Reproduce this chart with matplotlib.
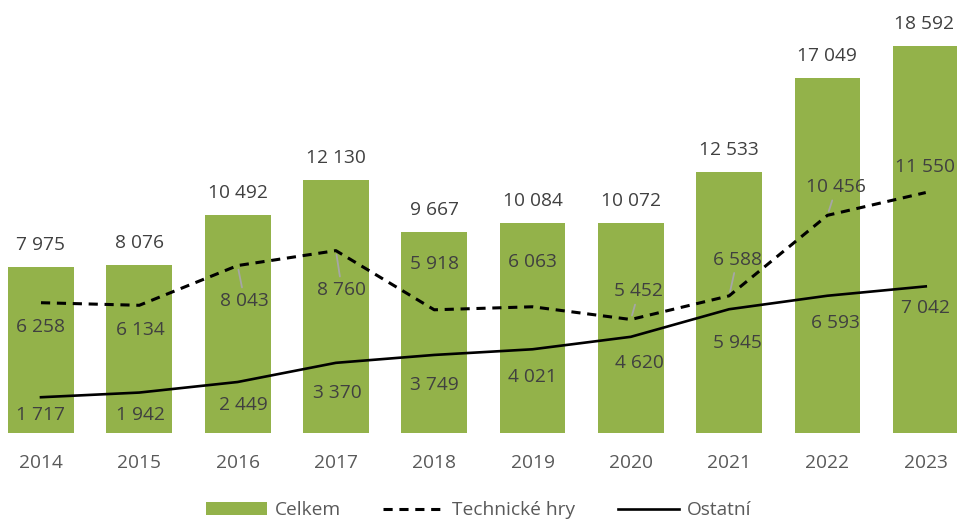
#!/usr/bin/env python3
"""Celkem / Technické hry / Ostatní, 2014-2023."""

import numpy as np
import matplotlib
matplotlib.use("Agg")
import matplotlib.pyplot as plt
from matplotlib.lines import Line2D
from matplotlib.patches import Patch

plt.rcParams["font.family"] = ["Open Sans", "DejaVu Sans"]

years = ["2014", "2015", "2016", "2017", "2018", "2019", "2020", "2021", "2022", "2023"]
celkem = [7975, 8076, 10492, 12130, 9667, 10084, 10072, 12533, 17049, 18592]
technicke = [6258, 6134, 8043, 8760, 5918, 6063, 5452, 6588, 10456, 11550]
ostatni = [1717, 1942, 2449, 3370, 3749, 4021, 4620, 5945, 6593, 7042]

# label offsets from the point, in pixels (dx right, dy down)
tech_off = [(0, 24), (1, 25), (7, 35), (6, 39), (0, -46), (0, -45),
            (8, -28), (8, -36), (9, -28), (-1, -26)]
tech_leader = [False, False, True, True, False, False, True, True, True, False]
ost_off = [(0, 18), (1, 22), (6, 23), (1, 30), (0, 30), (0, 28),
           (9, 26), (8, 34), (8, 27), (0, 22)]
top_dx = [0, 0, 0, 0, 0, 0, 0, 0, 0, -2]

GREEN = "#93B24A"
TXT = "#404040"
FS = 13.8


def fmt(v):
    return f"{v:,}".replace(",", " ")


fig = plt.figure(figsize=(9.57, 5.27), dpi=100)
ax = fig.add_axes([0, 0.1784, 1, 0.790])
px = 72 / fig.dpi  # pixels -> points

x = np.arange(len(years))
ax.bar(x, celkem, width=0.67, color=GREEN, zorder=1)
ax.plot(x, technicke, color="black", lw=2.2, linestyle=(0, (3, 2.2)), zorder=3)
ax.plot(x, ostatni, color="black", lw=1.9, zorder=3)

for i, v in enumerate(celkem):
    ax.annotate(fmt(v), (x[i], v), xytext=(top_dx[i] * px, 22 * px), textcoords="offset points",
                ha="center", va="center", fontsize=FS, color=TXT)

for i, v in enumerate(technicke):
    dx, dy = tech_off[i]
    ap = None
    if tech_leader[i]:
        ap = dict(arrowstyle="-", color="#A6A6A6", lw=1.3, shrinkA=1, shrinkB=3)
    ax.annotate(fmt(v), (x[i], v), xytext=(dx * px, -dy * px), textcoords="offset points",
                ha="center", va="center", fontsize=FS, color=TXT, arrowprops=ap, zorder=4)

for i, v in enumerate(ostatni):
    dx, dy = ost_off[i]
    ax.annotate(fmt(v), (x[i], v), xytext=(dx * px, -dy * px), textcoords="offset points",
                ha="center", va="center", fontsize=FS, color=TXT, zorder=4)

ax.set_xlim(-0.417, 9.318)
ax.set_ylim(0, 20000)
ax.set_xticks(x)
ax.set_xticklabels(years, fontsize=FS, color="#595959")
ax.tick_params(axis="x", length=0, pad=15)
ax.set_yticks([])
for s in ax.spines.values():
    s.set_visible(False)

handles = [
    Patch(facecolor=GREEN, edgecolor="none"),
    Line2D([], [], color="black", lw=2.2, linestyle=(0, (3, 2.2))),
    Line2D([], [], color="black", lw=1.9),
]
fig.legend(handles, ["Celkem", "Technické hry", "Ostatní"], loc="lower center",
           bbox_to_anchor=(0.5, -0.018), ncol=3, frameon=False, fontsize=FS,
           handlelength=3.2, handleheight=0.6, handletextpad=0.4, columnspacing=2.2,
           labelcolor="#595959")

fig.savefig("out.png", dpi=100)
